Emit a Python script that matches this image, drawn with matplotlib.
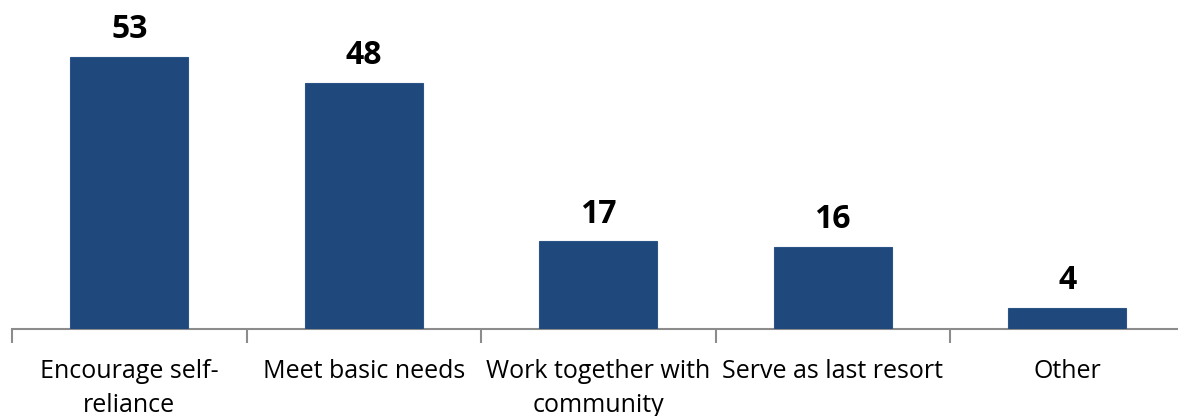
import matplotlib.pyplot as plt
import numpy as np

categories = ["Encourage self-\nreliance", "Meet basic needs", "Work together with\ncommunity",
              "Serve as last resort", "Other"]
values = [53, 48, 17, 16, 4]

plt.rcParams['font.family'] = ['Open Sans', 'DejaVu Sans']

fig = plt.figure(figsize=(11.78, 4.16), dpi=100)
# axes runs a little past the right edge, like the source layout
ax = fig.add_axes([12 / 1178, 87.5 / 416, 1172.5 / 1178, 328.5 / 416])

x = np.arange(len(values))
ax.bar(x, values, width=0.503, color="#1F497D", edgecolor="#2B5587", linewidth=0.8, zorder=3)

for xi, v in zip(x, values):
    ax.annotate(str(v), (xi, v), xytext=(0, 19.5), textcoords="offset points",
                ha="center", va="center", fontsize=23, fontweight="bold", color="black")

ax.set_xlim(-0.5, len(values) - 0.5)
ax.set_ylim(0, 64.1)

for side in ["left", "right", "top"]:
    ax.spines[side].set_visible(False)
ax.spines["bottom"].set_color("#8C8C8C")
ax.spines["bottom"].set_linewidth(1.5)

ax.set_yticks([])
ax.set_xticks(x)
ax.set_xticklabels(categories, fontsize=18, linespacing=1.45, va="top")
ax.tick_params(axis="x", which="major", length=0, pad=22)
ax.set_xticks(np.arange(-0.5, len(values)), minor=True)
ax.tick_params(axis="x", which="minor", length=10, width=1.5, color="#8C8C8C", direction="out")

fig.savefig("out.png", dpi=100)
